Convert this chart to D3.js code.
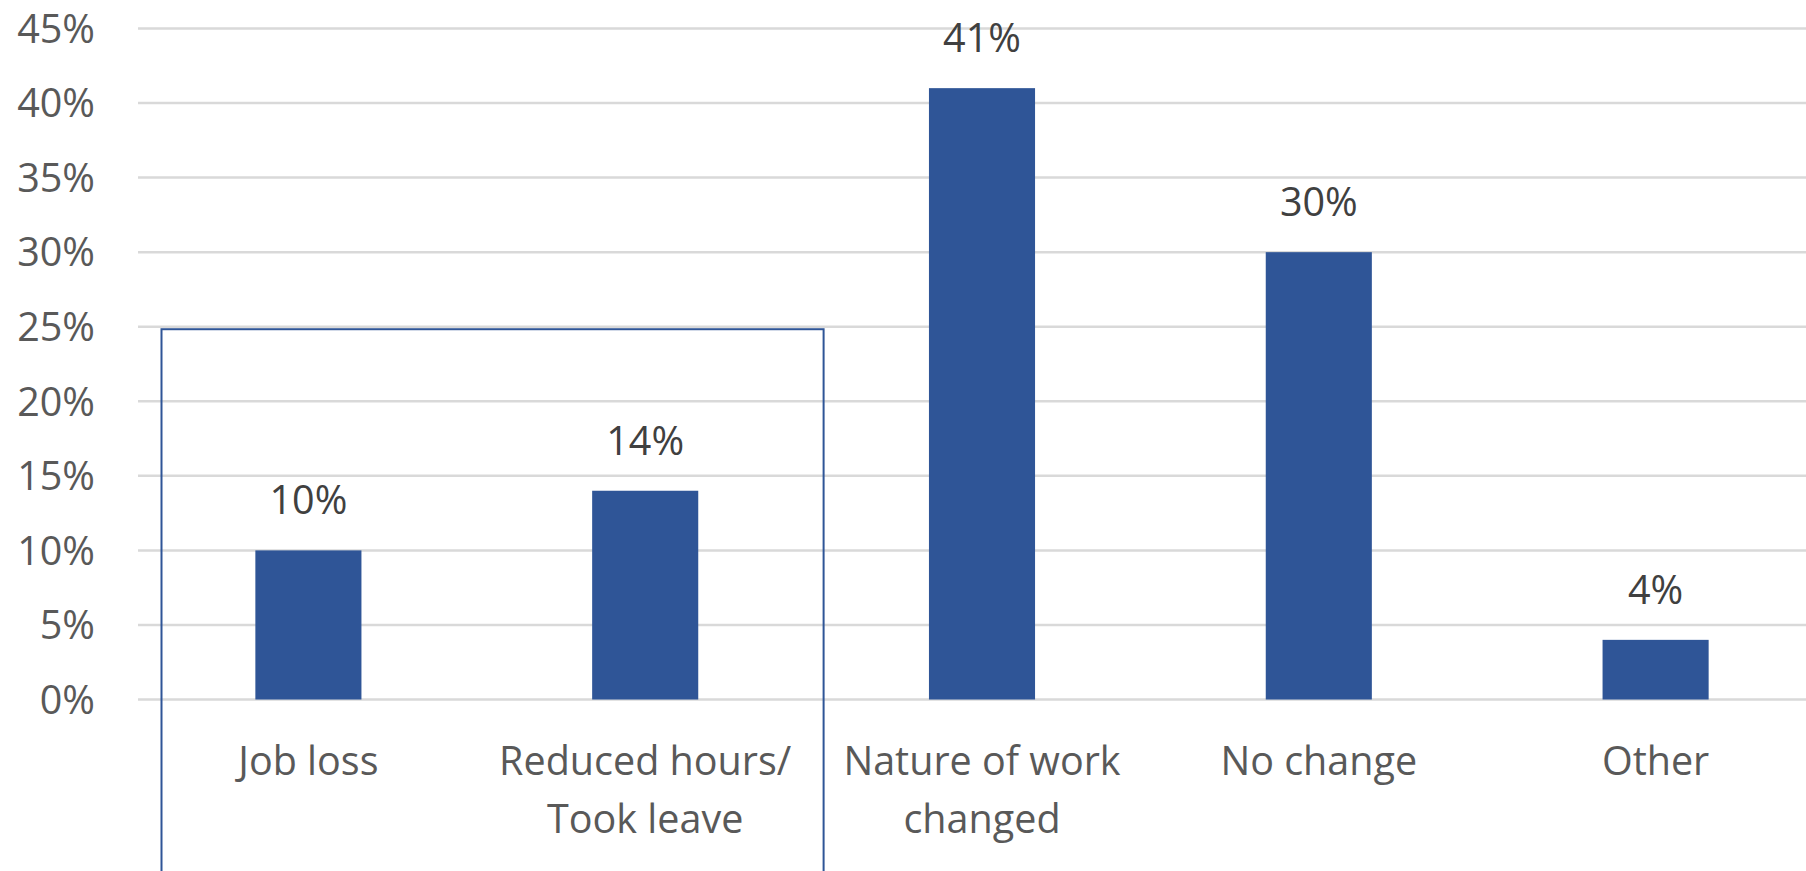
<!DOCTYPE html>
<html>
<head>
<meta charset="utf-8">
<script src="https://cdn.jsdelivr.net/npm/d3@7"></script>
<style>
  html, body { margin: 0; padding: 0; background: #fff; overflow: hidden; }
  svg { display: block; }
  text { font-family: "Open Sans", "Liberation Sans", sans-serif; }
</style>
</head>
<body>
<svg id="chart" width="1806" height="871"></svg>
<script>
// Survey responses: change in employment situation
const categories = ["Job loss", "Reduced hours/\nTook leave", "Nature of work\nchanged", "No change", "Other"];
const shares = [10, 14, 41, 30, 4];
const yTicks = [0, 5, 10, 15, 20, 25, 30, 35, 40, 45];

const W = 1806, H = 871;
const FONT = 39.5;
const svg = d3.select("#chart");

const x = d3.scaleBand()
  .domain(categories)
  .range([140, 1824])
  .paddingInner(0.685)
  .paddingOuter(0.3425);

const y = d3.scaleLinear()
  .domain([0, 45])
  .range([699.5, 28.5]);

// Horizontal gridlines
svg.append("g")
  .selectAll("line")
  .data(yTicks)
  .join("line")
  .attr("x1", 138)
  .attr("x2", W)
  .attr("y1", d => y(d))
  .attr("y2", d => y(d))
  .attr("stroke", "#d9d9d9")
  .attr("stroke-width", 2.5);

// Y axis labels
const yAxis = d3.axisLeft(y)
  .tickValues(yTicks)
  .tickFormat(d => d + "%")
  .tickSize(0)
  .tickPadding(0);
const yg = svg.append("g")
  .attr("transform", "translate(95,0)")
  .call(yAxis);
yg.select(".domain").remove();
yg.selectAll("text")
  .attr("fill", "#595959")
  .attr("font-size", FONT)
  .attr("dy", "0.35em")
  .style("font-family", "'Open Sans', 'Liberation Sans', sans-serif");

// Bars
svg.append("g")
  .selectAll("rect")
  .data(categories)
  .join("rect")
  .attr("x", d => x(d))
  .attr("width", x.bandwidth())
  .attr("y", (d, i) => y(shares[i]))
  .attr("height", (d, i) => y(0) - y(shares[i]))
  .attr("fill", "#2f5597");

// Value labels
svg.append("g")
  .selectAll("text")
  .data(categories)
  .join("text")
  .attr("x", d => x(d) + x.bandwidth() / 2)
  .attr("y", (d, i) => y(shares[i]) - 36)
  .attr("text-anchor", "middle")
  .attr("font-size", FONT)
  .attr("fill", "#404040")
  .text((d, i) => shares[i] + "%");

// Category labels (multi-line)
const cat = svg.append("g")
  .selectAll("text")
  .data(categories)
  .join("text")
  .attr("x", d => x(d) + x.bandwidth() / 2)
  .attr("y", 775)
  .attr("text-anchor", "middle")
  .attr("font-size", FONT)
  .attr("fill", "#595959");
cat.each(function (d) {
  const t = d3.select(this);
  d.split("\n").forEach((line, k) => {
    t.append("tspan")
      .attr("x", x(d) + x.bandwidth() / 2)
      .attr("dy", k === 0 ? 0 : 58)
      .text(line);
  });
});

// Outline grouping the first two categories
const step = x.step();
const gap = (step - x.bandwidth()) / 2;
const groupLeft = x(categories[0]) - gap + 21.5;
const groupRight = x(categories[1]) + x.bandwidth() + gap + 10;
svg.append("rect")
  .attr("x", groupLeft)
  .attr("y", y(25) + 2.5)
  .attr("width", groupRight - groupLeft)
  .attr("height", H + 20 - y(25))
  .attr("fill", "none")
  .attr("stroke", "#2f5597")
  .attr("stroke-width", 2);
</script>
</body>
</html>
